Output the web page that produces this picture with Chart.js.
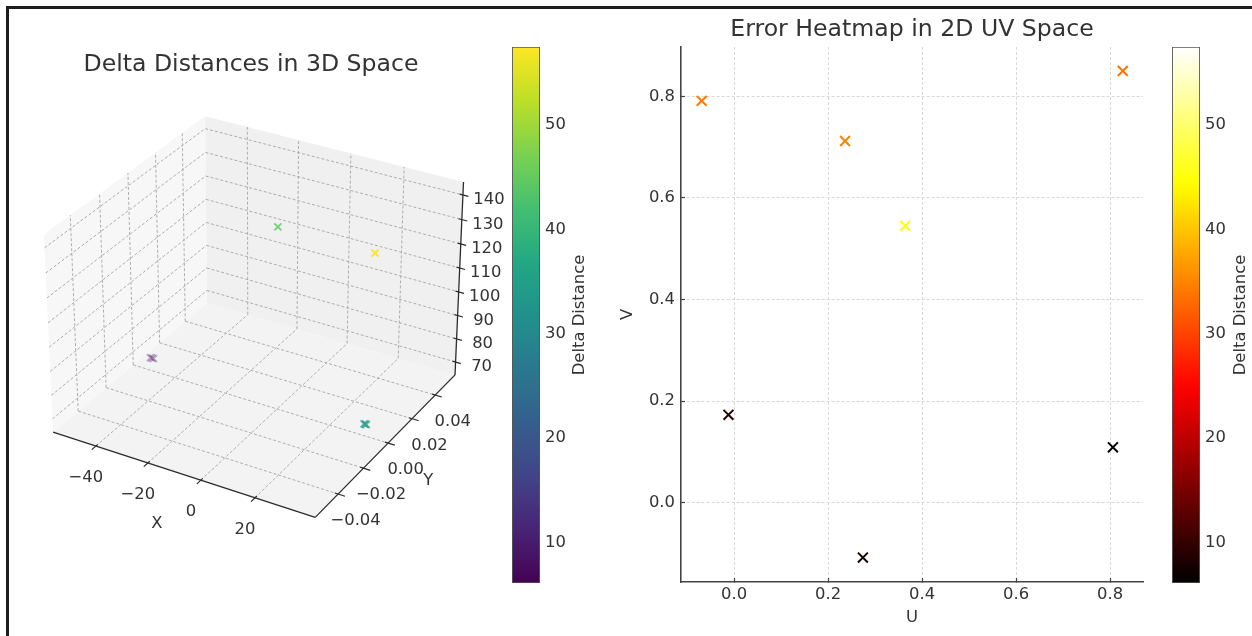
<!DOCTYPE html>
<html>
<head>
<meta charset="utf-8">
<title>Delta distances</title>
<script src="https://cdn.jsdelivr.net/npm/chart.js@4.4.1/dist/chart.umd.min.js"></script>
<style>
  html, body { margin: 0; padding: 0; background: #ffffff; }
  body { position: relative; width: 1252px; height: 636px; overflow: hidden; }
  canvas { position: absolute; top: 0; }
  #cv3d { left: -8px; }
  #cvViridis { left: 500px; }
  #cvUV { left: 600px; }
  #cvHot { left: 1160px; }
  #frame {
    position: absolute; left: 6px; top: 6px; width: 1400px; height: 800px;
    border-left: 3px solid #1e1e1e; border-top: 3px solid #1e1e1e;
    pointer-events: none;
  }
</style>
</head>
<body>
<canvas id="cv3d" width="518" height="636"></canvas>
<canvas id="cvViridis" width="110" height="636"></canvas>
<canvas id="cvUV" width="624" height="636"></canvas>
<canvas id="cvHot" width="92" height="636"></canvas>
<div id="frame"></div>
<script>
// ---------------- data ----------------
// 3D samples (X, Y, Z) and their delta distance
const x3d = [-49.7, -49.1, -48.5, 32.8, 33.2, 33.6, 0.0, 35.2];
const y3d = [0, 0, 0, 0, 0, 0, 0, 0];
const z3d = [69.9, 69.9, 69.9, 69.4, 69.4, 69.4, 139.8, 139.9];
const delta3d = [6.1, 8.0, 9.0, 33.5, 34.2, 34.8, 44.7, 57.5];

// UV samples and their delta distance
const uValues = [-0.069, 0.236, 0.364, 0.827, -0.012, 0.274, 0.806];
const vValues = [0.791, 0.712, 0.545, 0.850, 0.173, -0.108, 0.109];
const uvDelta = [34.2, 34.8, 44.7, 33.5, 9.0, 8.0, 6.1];

// axis limits and ticks
const xLimits = [-56.8, 41.8];
const yLimits = [-0.0575, 0.0575];
const zLimits = [64.4, 145.2];
const xTicks3d = [-40, -20, 0, 20];
const yTicks3d = [-0.04, -0.02, 0, 0.02, 0.04];
const zTicks3d = [70, 80, 90, 100, 110, 120, 130, 140];

const uLimits = [-0.113, 0.870];
const vLimits = [-0.156, 0.897];
const uTicks = [0, 0.2, 0.4, 0.6, 0.8];
const vTicks = [0, 0.2, 0.4, 0.6, 0.8];
const colorbarTicks = [10, 20, 30, 40, 50];

// ---------------- style ----------------
const FONT = '"DejaVu Sans", sans-serif';
const TEXT = '#333333';
const TICK_SIZE = 16.4;
const TITLE_SIZE = 23.6;
Chart.defaults.font.family = FONT;
Chart.defaults.font.size = TICK_SIZE;
Chart.defaults.color = TEXT;

const cbMin = Math.min(...delta3d);
const cbMax = Math.max(...delta3d);

// colormaps
const VIRIDIS = [[68,1,84],[72,36,117],[65,68,135],[53,95,141],[42,120,142],[33,145,140],
                 [34,168,132],[68,191,112],[122,209,81],[189,223,38],[253,231,37]];
const HOT = [[0, [0,0,0]], [0.365079, [255,0,0]], [0.746032, [255,255,0]], [1, [255,255,255]]];

function norm(v) { return Math.min(1, Math.max(0, (v - cbMin) / (cbMax - cbMin))); }
function viridis(t, alpha = 1) {
  const f = t * (VIRIDIS.length - 1);
  const i = Math.min(VIRIDIS.length - 2, Math.floor(f));
  const r = f - i;
  const c = VIRIDIS[i].map((a, k) => Math.round(a + (VIRIDIS[i + 1][k] - a) * r));
  return `rgba(${c[0]},${c[1]},${c[2]},${alpha})`;
}
function hot(t) {
  let i = 0;
  while (i < HOT.length - 2 && t > HOT[i + 1][0]) i++;
  const [t0, c0] = HOT[i], [t1, c1] = HOT[i + 1];
  const r = (t - t0) / (t1 - t0);
  const c = c0.map((a, k) => Math.round(a + (c1[k] - a) * r));
  return `rgb(${c[0]},${c[1]},${c[2]})`;
}

// ---------------- 3D projection (elev 30, azim -60, perspective) ----------------
const ELEV = 30, AZIM = -60, DIST = 10;
const ASPECT = [4, 4, 3];
const aspectLen = Math.hypot(...ASPECT);
const BOX = ASPECT.map(a => a * 1.8294640721620434 / aspectLen);
const el = ELEV * Math.PI / 180, az = AZIM * Math.PI / 180;
const Wv = [Math.cos(el) * Math.cos(az), Math.cos(el) * Math.sin(az), Math.sin(el)];
let Uv = [-Wv[1], Wv[0], 0];
const uLen = Math.hypot(Uv[0], Uv[1]);
Uv = Uv.map(c => c / uLen);
const Vv = [Wv[1] * Uv[2] - Wv[2] * Uv[1], Wv[2] * Uv[0] - Wv[0] * Uv[2], Wv[0] * Uv[1] - Wv[1] * Uv[0]];

function project(x, y, z) {
  const p = [
    ((x - xLimits[0]) / (xLimits[1] - xLimits[0]) - 0.5) * BOX[0],
    ((y - yLimits[0]) / (yLimits[1] - yLimits[0]) - 0.5) * BOX[1],
    ((z - zLimits[0]) / (zLimits[1] - zLimits[0]) - 0.5) * BOX[2]
  ];
  const dot = q => q[0] * p[0] + q[1] * p[1] + q[2] * p[2];
  const depth = DIST - dot(Wv);
  return { x: dot(Uv) / depth, y: dot(Vv) / depth, depth };
}
const pt = (x, y, z) => { const p = project(x, y, z); return { x: p.x, y: p.y }; };

// placement of the projection plane inside the 3D canvas
const VIEW_SCALE = 2629, VIEW_CX = 265.6, VIEW_CY = 307.5;
const CV3D_W = 518, CV3D_H = 636;
const TITLE3D_PAD = 51;
const TITLE3D_BLOCK = TITLE3D_PAD + TITLE_SIZE * 1.2;

const [X0, X1] = xLimits, [Y0, Y1] = yLimits, [Z0, Z1] = zLimits;
const XR = X1 - X0, YR = Y1 - Y0;

const structure = [];
function addPane(corners, color) {
  structure.push({
    type: 'line', data: corners.map(c => pt(...c)), fill: 'shape',
    backgroundColor: color, borderWidth: 0, pointRadius: 0, order: 4, clip: false
  });
}
function addSegment(a, b, style, order) {
  structure.push(Object.assign({
    type: 'line', data: [pt(...a), pt(...b)], fill: false, pointRadius: 0, order, clip: false
  }, style));
}
const GRID3D = { borderColor: '#a6a6a6', borderWidth: 0.9, borderDash: [3, 2] };
const AXIS3D = { borderColor: '#2b2b2b', borderWidth: 1.3 };
const TICK3D = { borderColor: '#2b2b2b', borderWidth: 1.2 };

// panes: x = min, y = max, floor
addPane([[X0, Y0, Z0], [X0, Y1, Z0], [X0, Y1, Z1], [X0, Y0, Z1]], '#f7f7f7');
addPane([[X0, Y1, Z0], [X1, Y1, Z0], [X1, Y1, Z1], [X0, Y1, Z1]], '#f0f0f0');
addPane([[X0, Y0, Z0], [X1, Y0, Z0], [X1, Y1, Z0], [X0, Y1, Z0]], '#f3f3f3');

// grid lines on the panes
xTicks3d.forEach(t => { addSegment([t, Y0, Z0], [t, Y1, Z0], GRID3D, 3); addSegment([t, Y1, Z0], [t, Y1, Z1], GRID3D, 3); });
yTicks3d.forEach(t => { addSegment([X0, t, Z0], [X1, t, Z0], GRID3D, 3); addSegment([X0, t, Z0], [X0, t, Z1], GRID3D, 3); });
zTicks3d.forEach(t => { addSegment([X0, Y0, t], [X0, Y1, t], GRID3D, 3); addSegment([X0, Y1, t], [X1, Y1, t], GRID3D, 3); });

// axis lines
addSegment([X0, Y0, Z0], [X1, Y0, Z0], AXIS3D, 2);
addSegment([X1, Y0, Z0], [X1, Y1, Z0], AXIS3D, 2);
addSegment([X1, Y1, Z0], [X1, Y1, Z1], AXIS3D, 2);

// tick marks
xTicks3d.forEach(t => addSegment([t, Y0 + 0.012 * YR, Z0], [t, Y0 - 0.025 * YR, Z0], TICK3D, 1));
yTicks3d.forEach(t => addSegment([X1 - 0.012 * XR, t, Z0], [X1 + 0.025 * XR, t, Z0], TICK3D, 1));
zTicks3d.forEach(t => addSegment([X1 - 0.012 * XR, Y1, t], [X1 + 0.02 * XR, Y1, t], TICK3D, 1));

// scatter points, faded with depth
const proj3d = x3d.map((x, i) => project(x, y3d[i], z3d[i]));
const dMin = Math.min(...proj3d.map(p => p.depth));
const dMax = Math.max(...proj3d.map(p => p.depth));
const colors3d = proj3d.map((p, i) => viridis(norm(delta3d[i]), 1 - 0.7 * (p.depth - dMin) / (dMax - dMin)));
const points3d = {
  type: 'scatter',
  data: proj3d.map(p => ({ x: p.x, y: p.y })),
  pointStyle: 'crossRot', pointRadius: 5, pointBorderWidth: 1.9,
  pointBorderColor: colors3d, pointBackgroundColor: colors3d, order: 0, clip: false
};

function fmtSigned(v, digits) {
  const s = Math.abs(v).toFixed(digits);
  return v < 0 ? '\u2212' + s : s;
}

const axisLabels3d = {
  id: 'axisLabels3d',
  afterDatasetsDraw(chart) {
    const { ctx } = chart;
    const sx = chart.scales.x, sy = chart.scales.y;
    const at = (x, y, z) => { const p = project(x, y, z); return [sx.getPixelForValue(p.x), sy.getPixelForValue(p.y)]; };
    const put = (text, pos, dx, dy) => ctx.fillText(text, pos[0] + dx, pos[1] + dy);
    ctx.save();
    ctx.font = `${TICK_SIZE}px ${FONT}`;
    ctx.fillStyle = TEXT;
    ctx.textAlign = 'center';
    ctx.textBaseline = 'middle';
    xTicks3d.forEach(t => put(fmtSigned(t, 0), at(t, Y0, Z0), -10, 31.5));
    yTicks3d.forEach(t => put(fmtSigned(t, 2), at(X1, t, Z0), 17.5, 27));
    zTicks3d.forEach(t => put(String(t), at(X1, Y1, t), 26, 5));
    put('X', at((X0 + X1) / 2, Y0, Z0), -24, 50);
    put('Y', at(X1, (Y0 + Y1) / 2, Z0), 40, 38);
    ctx.restore();
  }
};

new Chart(document.getElementById('cv3d'), {
  type: 'scatter',
  data: { datasets: [points3d, ...structure] },
  options: {
    responsive: false, animation: false, events: [],
    layout: { padding: 0, autoPadding: false },
    plugins: {
      legend: { display: false }, tooltip: { enabled: false },
      title: {
        display: true, text: 'Delta Distances in 3D Space', color: TEXT,
        font: { size: TITLE_SIZE, weight: 'normal' }, padding: { top: TITLE3D_PAD, bottom: 0 }
      }
    },
    scales: {
      x: { type: 'linear', display: false, min: -VIEW_CX / VIEW_SCALE, max: (CV3D_W - VIEW_CX) / VIEW_SCALE },
      y: { type: 'linear', display: false, min: (VIEW_CY - CV3D_H) / VIEW_SCALE, max: (VIEW_CY - TITLE3D_BLOCK) / VIEW_SCALE }
    }
  },
  plugins: [axisLabels3d]
});

// ---------------- colorbars ----------------
const colorbarLabel = {
  id: 'colorbarLabel',
  afterDraw(chart, args, opts) {
    const { ctx, chartArea } = chart;
    ctx.save();
    ctx.translate(chartArea.right + opts.offset, (chartArea.top + chartArea.bottom) / 2);
    ctx.rotate(-Math.PI / 2);
    ctx.font = `${TICK_SIZE}px ${FONT}`;
    ctx.fillStyle = TEXT;
    ctx.textAlign = 'center';
    ctx.textBaseline = 'middle';
    ctx.fillText(opts.text, 0, 0);
    ctx.restore();
  }
};

function makeColorbar(id, cmap, axisWidth, labelOffset) {
  return new Chart(document.getElementById(id), {
    type: 'bar',
    data: {
      labels: [''],
      datasets: [{
        data: [[cbMin, cbMax]],
        backgroundColor: (ctx) => {
          const chart = ctx.chart;
          if (!chart.chartArea) return '#888';
          const ys = chart.scales.y;
          const g = chart.ctx.createLinearGradient(0, ys.getPixelForValue(cbMin), 0, ys.getPixelForValue(cbMax));
          for (let i = 0; i <= 40; i++) g.addColorStop(i / 40, cmap(i / 40));
          return g;
        },
        borderColor: '#555555', borderWidth: 1.2, borderSkipped: false,
        barPercentage: 1, categoryPercentage: 1
      }]
    },
    options: {
      responsive: false, animation: false, events: [],
      layout: { padding: { left: 12, top: 47, bottom: 53, right: 0 }, autoPadding: false },
      plugins: {
        legend: { display: false }, tooltip: { enabled: false },
        colorbarLabel: { text: 'Delta Distance', offset: labelOffset }
      },
      scales: {
        x: { display: false },
        y: {
          position: 'right', min: cbMin, max: cbMax,
          afterBuildTicks: s => { s.ticks = colorbarTicks.map(v => ({ value: v })); },
          afterFit: s => { s.width = axisWidth; },
          grid: { display: true, drawOnChartArea: false, drawTicks: true, tickLength: -6, tickColor: '#444', tickWidth: 1.2 },
          border: { display: false },
          ticks: { padding: 11, color: TEXT, font: { size: TICK_SIZE } }
        }
      }
    },
    plugins: [colorbarLabel]
  });
}
makeColorbar('cvViridis', t => viridis(t), 70, 39.5);
makeColorbar('cvHot', t => hot(t), 52, 40.5);

// ---------------- UV scatter ----------------
const uvColors = uvDelta.map(d => hot(norm(d)));
new Chart(document.getElementById('cvUV'), {
  type: 'scatter',
  data: {
    datasets: [{
      data: uValues.map((u, i) => ({ x: u, y: vValues[i] })),
      pointStyle: 'crossRot', pointRadius: 7, pointBorderWidth: 2,
      pointBorderColor: uvColors, pointBackgroundColor: uvColors
    }]
  },
  options: {
    responsive: false, animation: false, events: [],
    layout: { padding: 0, autoPadding: false },
    plugins: {
      legend: { display: false }, tooltip: { enabled: false },
      title: {
        display: true, text: 'Error Heatmap in 2D UV Space', color: TEXT,
        font: { size: TITLE_SIZE, weight: 'normal' }, padding: { top: 15.3, bottom: 3.4 }
      }
    },
    scales: {
      x: {
        type: 'linear', position: 'bottom', min: uLimits[0], max: uLimits[1],
        afterBuildTicks: s => { s.ticks = uTicks.map(v => ({ value: v })); },
        afterFit: s => { s.height = 54; },
        ticks: { padding: 6.7, color: TEXT, callback: v => v.toFixed(1) },
        grid: { color: '#d9d9d9', lineWidth: 1, tickLength: -4, tickColor: '#444', tickWidth: 1.2 },
        border: { display: true, color: '#444', width: 1.6, dash: [3, 2] },
        title: { display: true, text: 'U', color: TEXT, font: { size: TICK_SIZE }, padding: { top: 0, bottom: 8.2 } }
      },
      y: {
        type: 'linear', position: 'left', min: vLimits[0], max: vLimits[1],
        afterBuildTicks: s => { s.ticks = vTicks.map(v => ({ value: v })); },
        afterFit: s => { s.width = 81; },
        ticks: { padding: 10, color: TEXT, callback: v => v.toFixed(1) },
        grid: { color: '#d9d9d9', lineWidth: 1, tickLength: -4, tickColor: '#444', tickWidth: 1.2 },
        border: { display: true, color: '#444', width: 1.6, dash: [3, 2] },
        title: { display: true, text: 'V', color: TEXT, font: { size: TICK_SIZE }, padding: { top: 18.2, bottom: 0 } }
      },
      yBalance: {
        type: 'linear', position: 'right', display: true,
        ticks: { display: false }, grid: { display: false, drawTicks: false }, border: { display: false },
        afterFit: s => { s.width = 81; }
      }
    }
  }
});
</script>
</body>
</html>
